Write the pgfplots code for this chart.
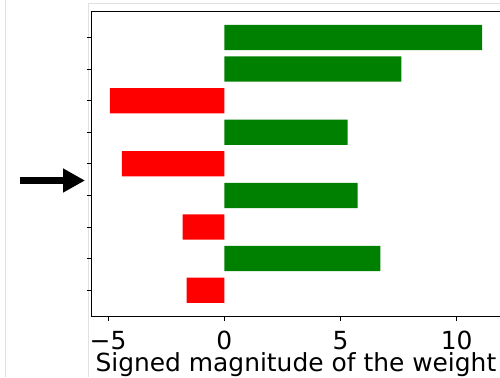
\documentclass[border=0pt]{standalone}
\usepackage{pgfplots}
\pgfplotsset{compat=1.18}
\usepackage{pgfplotstable}
\usepackage{fontspec}
\setmainfont{DejaVu Sans}
\usetikzlibrary{arrows.meta}
\definecolor{mplgreen}{RGB}{0,128,0}
\definecolor{mplred}{RGB}{255,0,0}
\definecolor{frame}{RGB}{225,225,225}
\pgfplotstableread{
pos val
0 11.09
1 7.62
3 5.31
5 5.74
7 6.71
}\positive
\pgfplotstableread{
pos val
2 -4.92
4 -4.41
6 -1.79
8 -1.62
}\negative
\newcommand{\bigfont}{\fontsize{25}{30}\selectfont}
\begin{document}
\begin{tikzpicture}[x=1bp,y=1bp]
\draw[frame, line width=1bp] (5,0) -- (5,377);
\draw[frame, line width=1bp] (88.3,0) -- (88.3,373.7) -- (500,373.7);
\begin{axis}[
  at={(91bp,60.3bp)}, anchor=south west,
  scale only axis, width=414bp, height=305.7bp,
  xmin=-5.736, xmax=12.078,
  ymin=-0.84, ymax=8.84, y dir=reverse,
  axis x line*=box, axis y line*=left,
  xtick={-5,0,5,10}, xticklabels={−5,0,5,10},
  ytick={0,...,8}, yticklabels={},
  tick align=outside, major tick length=4.5bp,
  tick style={black, line width=1bp},
  axis line style={black, line width=1bp, -},
  xtick pos=bottom, ytick pos=left,
  xticklabel style={font=\bigfont, anchor=base, inner sep=0pt, yshift=-28.4bp},
  xlabel={Signed magnitude of the weight},
  xlabel style={font=\bigfont, inner sep=0pt, at={(axis description cs:0.4949,0)}, anchor=base, yshift=-55.2bp},
  /pgf/number format/assume math mode=true,
]
\addplot[xbar, bar width=0.8, bar shift=0pt, fill=mplgreen, draw=none] table[x=val, y=pos] {\positive};
\addplot[xbar, bar width=0.8, bar shift=0pt, fill=mplred, draw=none] table[x=val, y=pos] {\negative};
\end{axis}
\draw[line width=7.6bp, -{Triangle[length=22bp, width=22.7bp]}] (19.5,196.5) -- (85,196.5);
\pgfresetboundingbox
\path[use as bounding box] (0,0) rectangle (500,377);
\end{tikzpicture}
\end{document}
